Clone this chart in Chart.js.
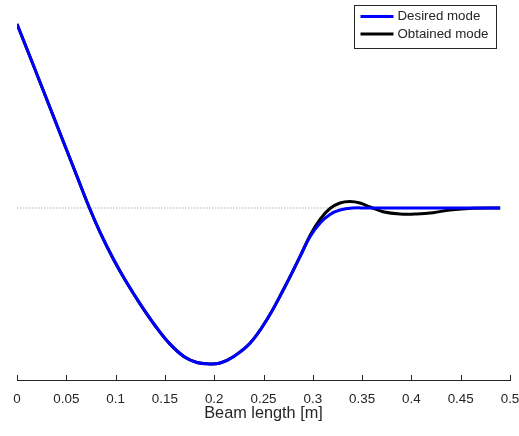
<!DOCTYPE html>
<html>
<head>
<meta charset="utf-8">
<script src="https://cdn.jsdelivr.net/npm/chart.js@4/dist/chart.umd.min.js"></script>
<style>
  html, body { margin: 0; padding: 0; background: #fff; }
  #wrap { width: 519px; height: 436px; }
</style>
</head>
<body>
<div id="wrap"><canvas id="grafico"></canvas></div>
<script>
// valores (x em metros, y em unidades arbitrárias, 0 = linha pontilhada)
const xDesejado = [0, 0.0145, 0.035, 0.0605, 0.0735, 0.085, 0.0977, 0.11, 0.125, 0.14, 0.155, 0.17,
  0.1825, 0.1927, 0.206, 0.2194, 0.2363, 0.2532, 0.27, 0.287, 0.2972, 0.3073, 0.3174, 0.3276, 0.3408,
  0.354, 0.40, 0.45, 0.49];
const yDesejado = [1.84, 1.48, 0.965, 0.325, 0, -0.259, -0.51, -0.725, -0.961, -1.175, -1.359, -1.49,
  -1.545, -1.558, -1.55, -1.487, -1.353, -1.12, -0.82, -0.487, -0.287, -0.153, -0.065, -0.02, 0,
  0, 0, 0, 0];

const xObtido = [0, 0.0145, 0.035, 0.0605, 0.0735, 0.085, 0.0977, 0.11, 0.125, 0.14, 0.155, 0.17,
  0.1825, 0.1927, 0.206, 0.2194, 0.2363, 0.2532, 0.27, 0.287, 0.2972, 0.3073, 0.3174, 0.3276, 0.3377,
  0.3479, 0.358, 0.3712, 0.3884, 0.4054, 0.4219, 0.4391, 0.4625, 0.49];
const yObtido = [1.84, 1.48, 0.965, 0.325, 0, -0.259, -0.51, -0.725, -0.961, -1.175, -1.359, -1.49,
  -1.545, -1.558, -1.55, -1.487, -1.353, -1.12, -0.82, -0.487, -0.275, -0.115, -0.005, 0.05, 0.065,
  0.05, 0.01, -0.037, -0.06, -0.06, -0.047, -0.02, -0.003, 0];

const xReferencia = [0, 0.49];
const yReferencia = [0, 0];

const xTicks = [0, 0.05, 0.1, 0.15, 0.2, 0.25, 0.3, 0.35, 0.4, 0.45, 0.5];
const xTickLabels = ['0', '0.05', '0.1', '0.15', '0.2', '0.25', '0.3', '0.35', '0.4', '0.45', '0.5'];

const labelDesejado = 'Desired mode';
const labelObtido = 'Obtained mode';
const tituloX = 'Beam length [m]';

const fonte = '"Liberation Sans", Arial, sans-serif';
const corTexto = '#262626';

const pontos = (xs, ys) => xs.map((x, i) => ({ x: x, y: ys[i] }));

// ticks para dentro + legenda com caixa (estilo MATLAB)
const extras = {
  id: 'extras',
  afterDraw(chart) {
    const ctx = chart.ctx;
    const escala = chart.scales.x;
    const area = chart.chartArea;

    ctx.save();
    ctx.strokeStyle = corTexto;
    ctx.lineWidth = 1;
    xTicks.forEach(v => {
      const px = Math.round(escala.getPixelForValue(v)) + 0.5;
      ctx.beginPath();
      ctx.moveTo(px, area.bottom);
      ctx.lineTo(px, area.bottom - 5);
      ctx.stroke();
    });

    const itens = chart.data.datasets.filter(d => d.label);
    const larg = 142, alt = 43;
    const bx = Math.round(area.right - 14 - larg) + 0.5;
    const by = Math.round(area.top) + 0.5;
    ctx.fillStyle = '#fff';
    ctx.fillRect(bx, by, larg, alt);
    ctx.strokeStyle = corTexto;
    ctx.lineWidth = 1;
    ctx.strokeRect(bx, by, larg, alt);

    ctx.font = '13.3px ' + fonte;
    ctx.textBaseline = 'middle';
    ctx.textAlign = 'left';
    itens.forEach((d, i) => {
      const y = by + 11 + i * 17.6;
      ctx.strokeStyle = d.borderColor;
      ctx.lineWidth = 3;
      ctx.beginPath();
      ctx.moveTo(bx + 6, y);
      ctx.lineTo(bx + 39, y);
      ctx.stroke();
      ctx.fillStyle = corTexto;
      ctx.fillText(d.label, bx + 43, y);
    });
    ctx.restore();
  }
};

new Chart(document.getElementById('grafico'), {
  type: 'line',
  data: {
    datasets: [
      {
        label: labelDesejado,
        data: pontos(xDesejado, yDesejado),
        borderColor: '#0000ff',
        borderWidth: 3,
        pointRadius: 0,
        tension: 0.4,
        fill: false
      },
      {
        label: labelObtido,
        data: pontos(xObtido, yObtido),
        borderColor: '#000000',
        borderWidth: 3,
        pointRadius: 0,
        tension: 0.4,
        fill: false
      },
      {
        label: '',
        data: pontos(xReferencia, yReferencia),
        borderColor: '#b3b3b3',
        borderWidth: 1,
        borderDash: [1.5, 1.5],
        pointRadius: 0,
        fill: false
      }
    ]
  },
  options: {
    responsive: true,
    maintainAspectRatio: false,
    animation: false,
    layout: { padding: { left: 17, right: 0, top: 5, bottom: 0 } },
    plugins: {
      legend: { display: false },
      tooltip: { enabled: false }
    },
    scales: {
      x: {
        type: 'linear',
        min: 0,
        max: 0.5,
        afterBuildTicks: s => { s.ticks = xTicks.map(v => ({ value: v })); },
        afterFit: s => { s.height = 56; s.paddingLeft = 0; s.paddingRight = 9; },
        ticks: {
          padding: 11,
          maxRotation: 0,
          autoSkip: false,
          color: corTexto,
          font: { family: fonte, size: 13.4 },
          callback: (v, i) => xTickLabels[i]
        },
        grid: { display: true, drawOnChartArea: false, drawTicks: false },
        border: { display: true, color: corTexto, width: 1 },
        title: {
          display: true,
          text: tituloX,
          color: corTexto,
          font: { family: fonte, size: 16.3 },
          padding: { top: 0, bottom: 13 }
        }
      },
      y: {
        type: 'linear',
        display: false,
        min: -1.72,
        max: 2.03
      }
    }
  },
  plugins: [extras]
});
</script>
</body>
</html>
